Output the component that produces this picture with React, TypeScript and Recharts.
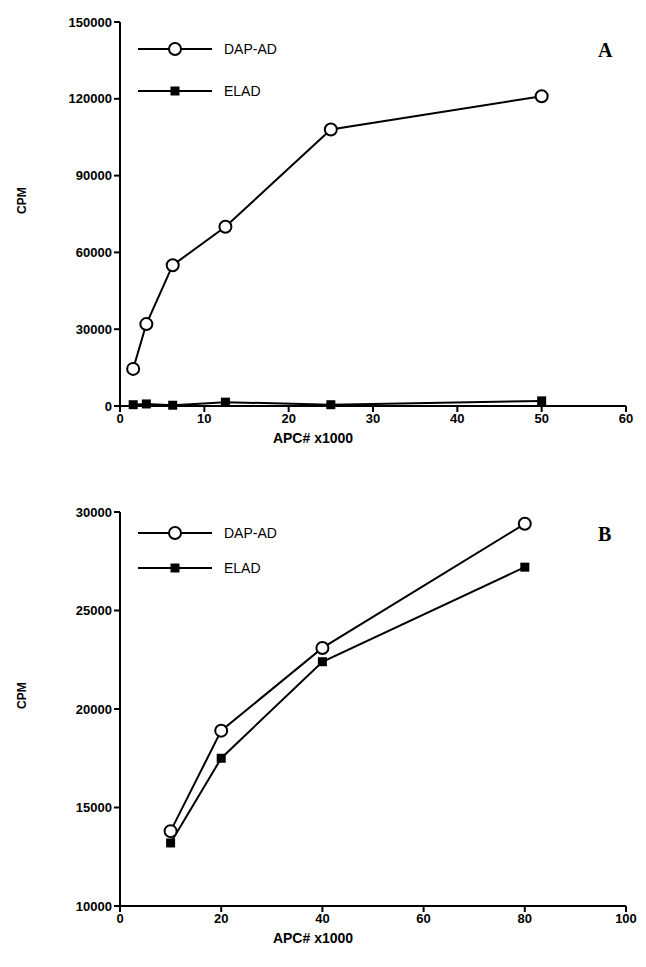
import { LineChart, Line, XAxis, YAxis } from "recharts";

const doseA = [1.56, 3.125, 6.25, 12.5, 25, 50];
const dapA = [14500, 32000, 55000, 70000, 108000, 121000];
const eladA = [500, 800, 300, 1500, 500, 2000];
const xTicksA = [0, 10, 20, 30, 40, 50, 60];
const yTicksA = [0, 30000, 60000, 90000, 120000, 150000];

const doseB = [10, 20, 40, 80];
const dapB = [13800, 18900, 23100, 29400];
const eladB = [13200, 17500, 22400, 27200];
const xTicksB = [0, 20, 40, 60, 80, 100];
const yTicksB = [10000, 15000, 20000, 25000, 30000];

const rowsA = doseA.map((x, i) => ({ x, dap: dapA[i], elad: eladA[i] }));
const rowsB = doseB.map((x, i) => ({ x, dap: dapB[i], elad: eladB[i] }));

const font = "'Liberation Sans', Arial, sans-serif";
const tick = { fill: "#000", fontSize: 13, fontWeight: 700, fontFamily: font };

const Circle = (p: any) =>
  p.cx == null ? null : <circle cx={p.cx} cy={p.cy} r={6} fill="#fff" stroke="#000" strokeWidth={2} />;
const Square = (p: any) =>
  p.cx == null ? null : <rect x={p.cx - 4.5} y={p.cy - 4.5} width={9} height={9} fill="#000" />;

function Panel(props: any) {
  const { rows, xDomain, xTicks, yDomain, yTicks, letter, legendTop, gap, height, top } = props;
  return (
    <div style={{ position: "absolute", left: 0, top }}>
      <LineChart width={646} height={height} data={rows} margin={{ top: 22, right: 20, left: 0, bottom: 0 }}>
        <XAxis
          dataKey="x" type="number" domain={xDomain} ticks={xTicks}
          stroke="#000" strokeWidth={2} tick={tick} tickSize={6}
          height={50}
          label={{ value: "APC#    x1000", position: "insideTop", offset: 27, dx: -60, fill: "#000", fontSize: 14, fontWeight: 700, fontFamily: font, style: { whiteSpace: "pre" } }}
        />
        <YAxis
          type="number" domain={yDomain} ticks={yTicks} width={120}
          stroke="#000" strokeWidth={2} tick={tick} tickSize={6}
          label={{ value: "CPM", angle: -90, position: "insideLeft", offset: 22, fill: "#000", fontSize: 12, fontWeight: 700, fontFamily: font }}
        />
        <Line dataKey="dap" stroke="#000" strokeWidth={2} dot={<Circle />} isAnimationActive={false} />
        <Line dataKey="elad" stroke="#000" strokeWidth={2} dot={<Square />} isAnimationActive={false} />
        <g transform={`translate(138, ${legendTop})`}>
          <line x1={0} x2={74} y1={10} y2={10} stroke="#000" strokeWidth={2} />
          <circle cx={37} cy={10} r={6} fill="#fff" stroke="#000" strokeWidth={2} />
          <text x={86} y={15} fontFamily={font} fontSize={14}>DAP-AD</text>
          <line x1={0} x2={74} y1={10 + gap} y2={10 + gap} stroke="#000" strokeWidth={2} />
          <rect x={32.5} y={5.5 + gap} width={9} height={9} fill="#000" />
          <text x={86} y={15 + gap} fontFamily={font} fontSize={14}>ELAD</text>
        </g>
        <text x={598} y={legendTop + 18} fontFamily="'Liberation Serif', serif" fontWeight={700} fontSize={20}>{letter}</text>
      </LineChart>
    </div>
  );
}

export default function App() {
  return (
    <div style={{ position: "absolute", left: 0, top: 0, width: 646, height: 967, background: "#fff" }}>
      <Panel rows={rowsA} xDomain={[0, 60]} xTicks={xTicksA} yDomain={[0, 150000]} yTicks={yTicksA}
        letter="A" legendTop={39} gap={42} height={456} top={0} />
      <Panel rows={rowsB} xDomain={[0, 100]} xTicks={xTicksB} yDomain={[10000, 30000]} yTicks={yTicksB}
        letter="B" legendTop={33} gap={35} height={466} top={490} />
    </div>
  );
}
